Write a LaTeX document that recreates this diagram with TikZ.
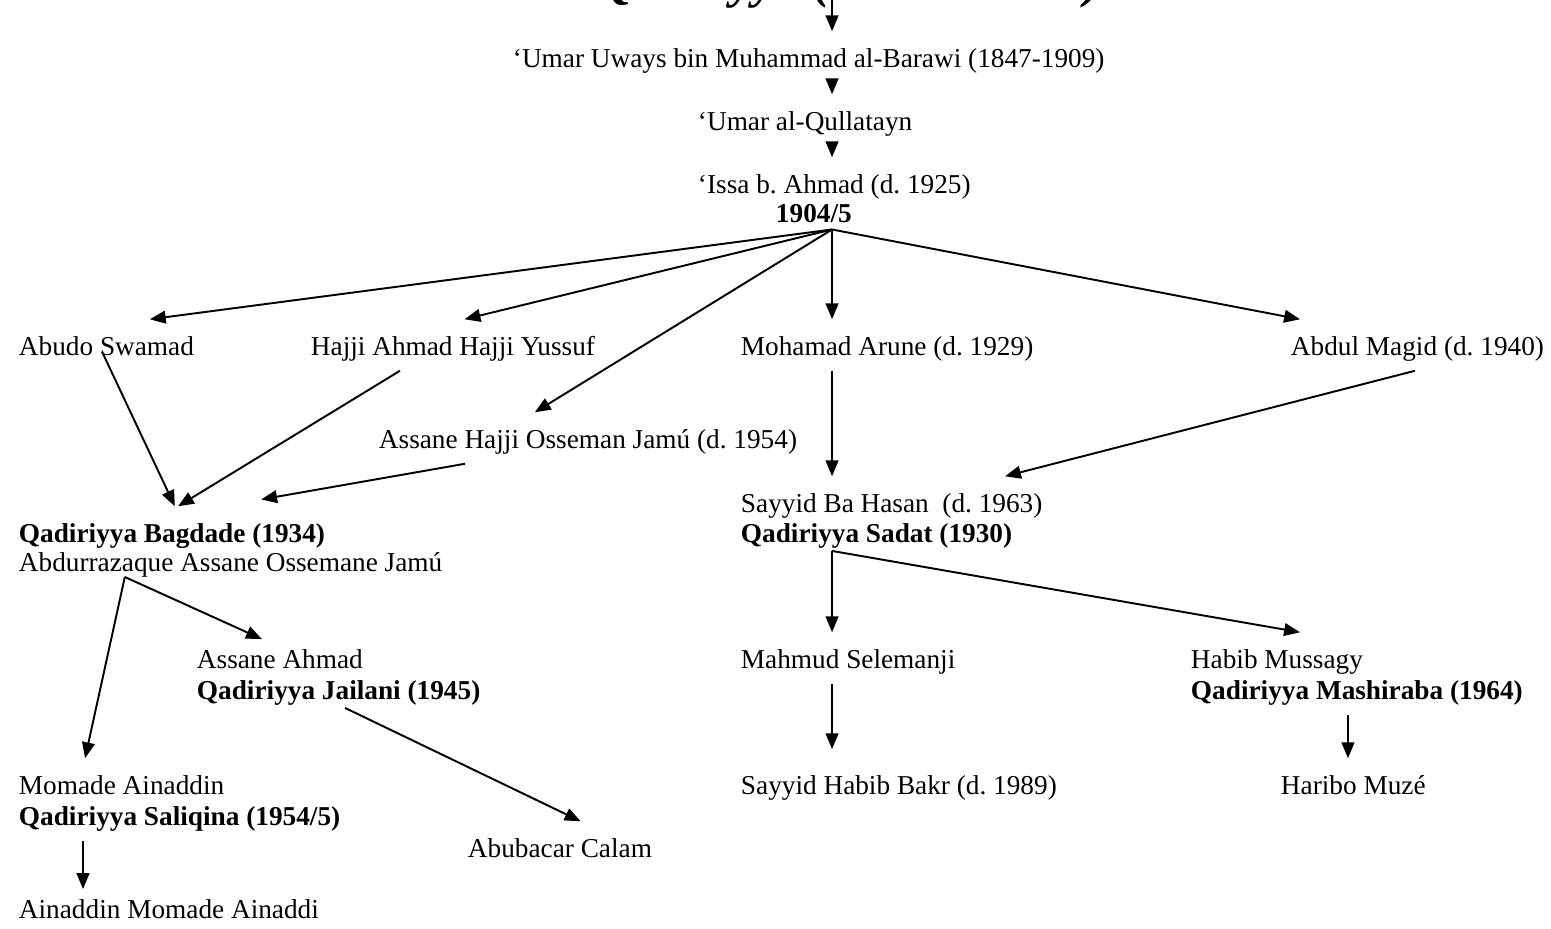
\documentclass[tikz,border=0pt]{standalone}
\usepackage{fontspec}
\setmainfont{Liberation Serif}
\usepackage{tikz}
\usetikzlibrary{arrows.meta}
\usetikzlibrary{positioning}
\frenchspacing

\begin{document}
\begin{tikzpicture}[->, >={Triangle[length=7pt,width=5.6pt]}, x=0.44pt, y=-0.44pt, line width=0.85pt]
    \tikzstyle{every node}=[anchor=west, inner xsep=0pt, inner ysep=5.4pt, text height=10.2pt, text depth=0.8pt, font=\fontsize{12}{13}\selectfont]
    \tikzstyle{branch}=[font=\fontsize{12}{13}\selectfont\bfseries]

    \useasboundingbox (0,0) rectangle (1551,928);

    % title, cut off at the top edge
    \begin{scope}
        \clip (0,0) rectangle (1551,928);
        \node (heading) at (597,-3) [anchor=base west, inner sep=0pt, text height=, text depth=, font=\fontsize{22}{24}\selectfont\bfseries\itshape] {Qadiriyya (\hspace{112pt})};
    \end{scope}

    \node (umar) at (512,57) {‘Umar Uways bin Muhammad al-Barawi (1847-1909)};
    \node (qull) at (697,120) {‘Umar al-Qullatayn};
    \node (issa) at (697,183) {‘Issa b. Ahmad (d. 1925)};
    \node (y1904) at (775,216) [branch, inner ysep=0pt, text height=8.4pt, text depth=2.6pt] {1904/5};

    \node (abudo) at (18,345) {Abudo Swamad};
    \node (hajji) at (310,345) {Hajji Ahmad Hajji Yussuf};
    \node (arune) at (740,345) {Mohamad Arune (d. 1929)};
    \node (magid) at (1290,345) {Abdul Magid (d. 1940)};
    \node (osseman) at (378,438) {Assane Hajji Osseman Jamú (d. 1954)};

    \node (sayyid) at (740,502) {Sayyid Ba Hasan\ \ (d. 1963)};
    \node (sadat) at (740,532) [branch] {Qadiriyya Sadat (1930)};
    \node (bagdade) at (18,532) [branch] {Qadiriyya Bagdade (1934)};
    \node (abdur) at (18,561) {Abdurrazaque Assane Ossemane Jamú};

    \node (assaneA) at (196,658) {Assane Ahmad};
    \node (jailani) at (196,689) [branch] {Qadiriyya Jailani (1945)};
    \node (mahmud) at (740,658) {Mahmud Selemanji};
    \node (habib) at (1190,658) {Habib Mussagy};
    \node (mashiraba) at (1190,689) [branch] {Qadiriyya Mashiraba (1964)};

    \node (momade) at (18,784) {Momade Ainaddin};
    \node (saliqina) at (18,815) [branch] {Qadiriyya Saliqina (1954/5)};
    \node (bakr) at (740,784) {Sayyid Habib Bakr (d. 1989)};
    \node (haribo) at (1280,784) {Haribo Muzé};
    \node (abubacar) at (467,847) {Abubacar Calam};
    \node (ainaddi) at (18,908) {Ainaddin Momade Ainaddi};

    \coordinate (fan) at ([xshift=8pt]y1904.south);

    % main line
    \draw (heading.base -| fan) -- (umar.north -| fan);
    \draw (umar.south -| fan) -- (qull.north -| fan);
    \draw (qull.south -| fan) -- (issa.north -| fan);

    % 1904/5
    \draw (fan) -- ([xshift=58pt]abudo.north west);
    \draw (fan) -- ([xshift=68pt]hajji.north west);
    \draw (fan) -- ([xshift=69pt]osseman.north west);
    \draw (fan) -- (arune.north -| fan);
    \draw (fan) -- ([xshift=4.4pt]magid.north west);

    % Bagdade
    \draw ([xshift=37pt,yshift=-3pt]abudo.west) -- ([xshift=69pt]bagdade.north west);
    \draw ([xshift=39.6pt]hajji.south west) -- ([xshift=70.4pt]bagdade.north west);
    \draw ([xshift=38.3pt]osseman.south west) -- ([xshift=107pt,yshift=3pt]bagdade.north west);

    % Sadat
    \draw (arune.south -| fan) -- (sayyid.north -| fan);
    \draw ([xshift=55pt]magid.south west) -- ([xshift=116.6pt]sayyid.north west);

    \coordinate (split) at ([xshift=47pt,yshift=4.3pt]abdur.south west);
    \draw (split) -- ([xshift=29.5pt]momade.north west);
    \draw (split) -- ([xshift=29pt,yshift=-3pt]assaneA.north west);

    \coordinate (fork) at ([yshift=3pt]sadat.south -| fan);
    \draw (fork) -- (mahmud.north -| fan);
    \draw (fork) -- ([xshift=48.4pt]habib.north west);

    \draw ([xshift=65.6pt,yshift=3pt]jailani.south west) -- ([xshift=50pt]abubacar.north west);
    \draw (mahmud.south -| fan) -- ([yshift=4pt]bakr.north -| fan);
    \draw ([xshift=69.5pt]mashiraba.south west) -- ([xshift=69.5pt]mashiraba.south west |- haribo.north);
    \draw ([xshift=28.6pt]saliqina.south west) -- ([xshift=28.6pt,yshift=-3pt]saliqina.south west |- ainaddi.north);
\end{tikzpicture}
\end{document}
